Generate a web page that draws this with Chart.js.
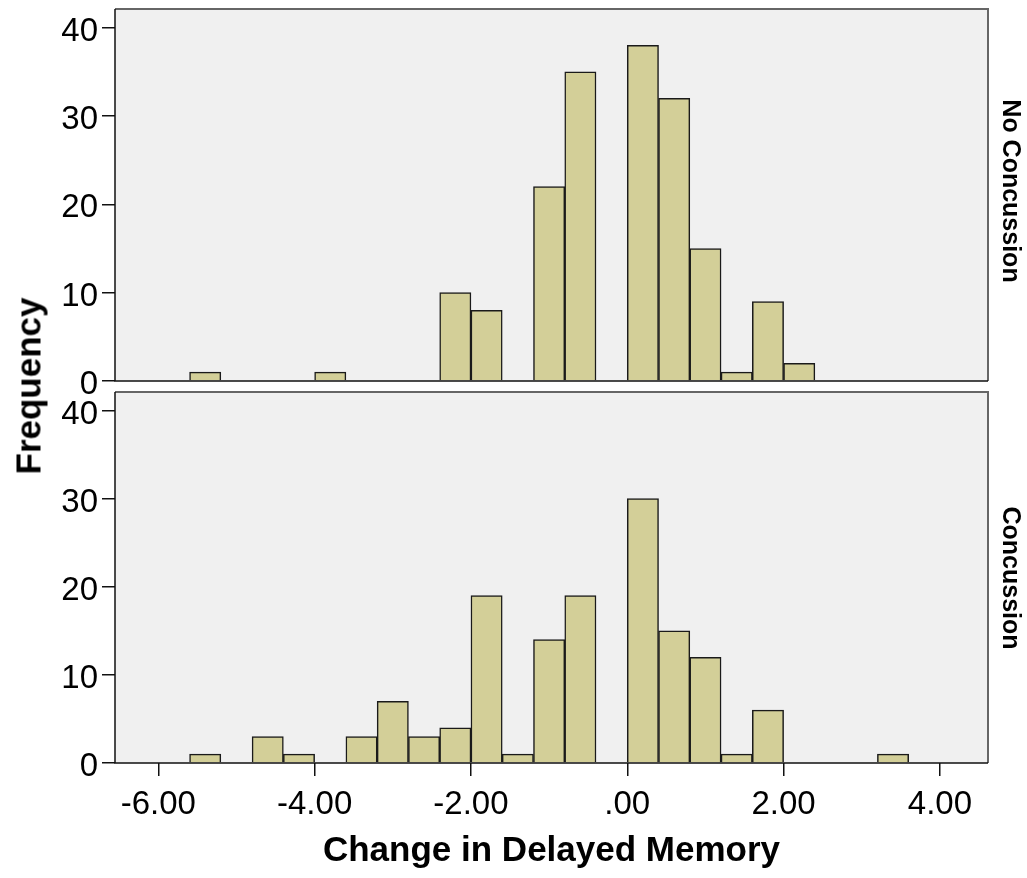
<!DOCTYPE html>
<html lang="en">
<head>
<meta charset="UTF-8">
<title>Change in Delayed Memory by Concussion</title>
<script src="https://cdn.jsdelivr.net/npm/chart.js"></script>
<style>
  body { margin: 0; background: #fff; font-family: "Liberation Sans", Arial, sans-serif; }
  .wrap { position: relative; width: 1027px; height: 878px; overflow: hidden; }
  canvas { position: absolute; left: 0; }
  #topChart { top: 0; }
  #bottomChart { top: 360px; }
  .lbl {
    position: absolute;
    font-weight: bold;
    white-space: nowrap;
    color: #000;
  }
  #yTitle { left: 28px; top: 386px; font-size: 35px; line-height: 35px; transform: translate(-50%, -50%) rotate(-90deg); }
  .strip { font-size: 25px; line-height: 25px; left: 1011px; transform: translate(-50%, -50%) rotate(90deg); }
  #stripTop { top: 191px; }
  #stripBottom { top: 578px; }
</style>
</head>
<body>
<div class="wrap">
  <canvas id="topChart" width="1027" height="430"></canvas>
  <canvas id="bottomChart" width="1027" height="518"></canvas>
  <div class="lbl" id="yTitle">Frequency</div>
  <div class="lbl strip" id="stripTop">No Concussion</div>
  <div class="lbl strip" id="stripBottom">Concussion</div>
</div>

<script>
// histogram bins (lower edge of each bin, width 0.4)
var binWidth = 0.4;
var binStart = [-5.6, -5.2, -4.8, -4.4, -4.0, -3.6, -3.2, -2.8, -2.4, -2.0, -1.6, -1.2,
                -0.8, -0.4, 0.0, 0.4, 0.8, 1.2, 1.6, 2.0, 2.4, 2.8, 3.2];

// frequencies per bin
var noConcussion = [1, 0, 0, 0, 1, 0, 0, 0, 10, 8, 0, 22, 35, 0, 38, 32, 15, 1, 9, 2, 0, 0, 0];
var concussion   = [1, 0, 3, 1, 0, 3, 7, 3, 4, 19, 1, 14, 19, 0, 30, 15, 12, 1, 6, 0, 0, 0, 1];

var panelLabels = ["No Concussion", "Concussion"];
var xTitle = "Change in Delayed Memory";

var xMin = -6.554, xMax = 4.615;
var yMax = 42.1;

var tickFont = { family: "'Liberation Sans', Arial, sans-serif", size: 33 };

function fmtX(v) {
    if (v === 0) return ".00";
    return v.toFixed(2);
}

// grey panel background + frame
var panelFrame = {
    id: "panelFrame",
    beforeDatasetsDraw: function (chart) {
        var a = chart.chartArea, ctx = chart.ctx;
        ctx.save();
        ctx.fillStyle = "#f0f0f0";
        ctx.fillRect(a.left, a.top, a.right - a.left, a.bottom - a.top);
        ctx.restore();
    },
    afterDatasetsDraw: function (chart) {
        var a = chart.chartArea, ctx = chart.ctx;
        ctx.save();
        ctx.strokeStyle = "#666";
        ctx.lineWidth = 2;
        ctx.beginPath();
        ctx.moveTo(a.left, a.top);
        ctx.lineTo(a.right, a.top);
        ctx.lineTo(a.right, a.bottom);
        ctx.stroke();
        ctx.strokeStyle = "#111";
        ctx.lineWidth = 1.5;
        ctx.beginPath();
        ctx.moveTo(a.left, a.top);
        ctx.lineTo(a.left, a.bottom);
        ctx.lineTo(a.right, a.bottom);
        ctx.stroke();
        ctx.restore();
    }
};

function noPad(s) {
    s.paddingLeft = 0; s.paddingRight = 0; s.paddingTop = 0; s.paddingBottom = 0;
}

function makePanel(id, counts, showX, padding) {
    var ctx = document.getElementById(id).getContext("2d");
    return new Chart(ctx, {
        type: "bar",
        data: {
            datasets: [{
                data: binStart.map(function (s, i) { return { x: s + binWidth / 2, y: counts[i] }; }),
                backgroundColor: "#d3cf98",
                borderColor: "#1a1a1a",
                borderWidth: 1.5,
                barPercentage: 1,
                categoryPercentage: 1
            }]
        },
        options: {
            responsive: false,
            animation: false,
            layout: { padding: padding },
            plugins: { legend: { display: false }, tooltip: { enabled: false } },
            scales: {
                x: {
                    type: "linear",
                    display: showX,
                    min: xMin,
                    max: xMax,
                    offset: false,
                    grid: { offset: false, drawOnChartArea: false, drawTicks: true, tickLength: 13, color: "#111", lineWidth: 1.5 },
                    border: { display: false },
                    ticks: { stepSize: 2, includeBounds: false, padding: 9, color: "#000", font: tickFont, callback: fmtX, maxRotation: 0 },
                    title: {
                        display: true, text: xTitle, color: "#000",
                        font: { family: "'Liberation Sans', Arial, sans-serif", size: 35, weight: "bold" },
                        padding: { top: 0, bottom: 6 }
                    },
                    afterFit: function (s) {
                        noPad(s);
                        s.height = showX ? 115 : 0;
                    }
                },
                y: {
                    min: 0,
                    max: yMax,
                    grid: { drawOnChartArea: false, drawTicks: true, tickLength: 13, color: "#111", lineWidth: 1.5 },
                    border: { display: false },
                    ticks: { stepSize: 10, includeBounds: false, padding: 4, labelOffset: 4, color: "#000", font: tickFont },
                    afterFit: function (s) { noPad(s); s.width = 115; }
                }
            }
        },
        plugins: [panelFrame]
    });
}

var topChart = makePanel("topChart", noConcussion, false, { left: 0, top: 9, right: 39, bottom: 49 });
var bottomChart = makePanel("bottomChart", concussion, true, { left: 0, top: 32, right: 39, bottom: 0 });
</script>
</body>
</html>
